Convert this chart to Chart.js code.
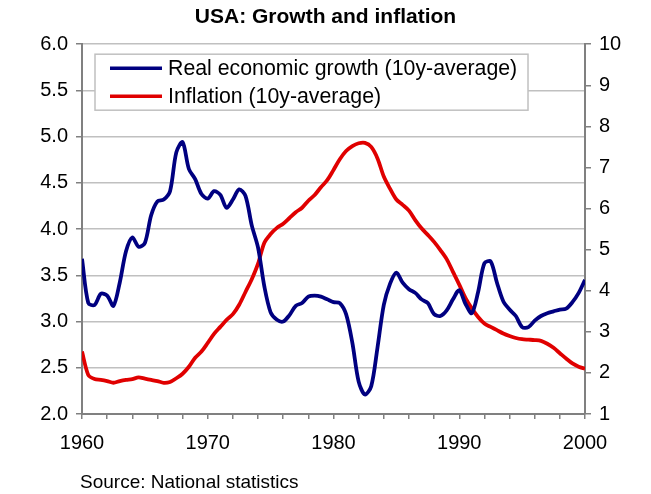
<!DOCTYPE html>
<html>
<head>
<meta charset="utf-8">
<script src="https://cdn.jsdelivr.net/npm/chart.js@4"></script>
<style>
  html, body { margin: 0; padding: 0; background: #fff; }
  canvas { display: block; }
</style>
</head>
<body>
<canvas id="chGrowth" width="651" height="494"></canvas>
<script>
// half-year steps, 1960 - 2000
var years = [1960,1960.5,1961,1961.5,1962,1962.5,1963,1963.5,1964,1964.5,
  1965,1965.5,1966,1966.5,1967,1967.5,1968,1968.5,1969,1969.5,
  1970,1970.5,1971,1971.5,1972,1972.5,1973,1973.5,1974,1974.5,
  1975,1975.5,1976,1976.5,1977,1977.5,1978,1978.5,1979,1979.5,
  1980,1980.5,1981,1981.5,1982,1982.5,1983,1983.5,1984,1984.5,
  1985,1985.5,1986,1986.5,1987,1987.5,1988,1988.5,1989,1989.5,
  1990,1990.5,1991,1991.5,1992,1992.5,1993,1993.5,1994,1994.5,
  1995,1995.5,1996,1996.5,1997,1997.5,1998,1998.5,1999,1999.5,2000];

// real growth, 10y average (left axis)
var growth = [3.68,3.20,3.18,3.30,3.28,3.17,3.42,3.76,3.91,3.81,
  3.85,4.15,4.30,4.32,4.41,4.83,4.94,4.65,4.54,4.38,
  4.33,4.41,4.37,4.23,4.32,4.43,4.36,4.04,3.80,3.38,
  3.10,3.02,3.00,3.07,3.17,3.20,3.27,3.28,3.27,3.24,
  3.21,3.20,3.08,2.77,2.35,2.21,2.30,2.72,3.18,3.41,
  3.53,3.42,3.35,3.31,3.24,3.20,3.08,3.06,3.12,3.24,
  3.34,3.19,3.09,3.32,3.63,3.65,3.42,3.22,3.13,3.06,
  2.94,2.94,3.01,3.06,3.09,3.11,3.13,3.14,3.21,3.31,3.45];

// inflation, 10y average (right axis)
var inflation = [2.52,1.95,1.85,1.83,1.80,1.76,1.80,1.83,1.85,1.89,
  1.86,1.83,1.80,1.76,1.78,1.87,1.98,2.15,2.37,2.52,
  2.73,2.95,3.12,3.29,3.43,3.66,3.97,4.28,4.66,5.17,
  5.38,5.53,5.63,5.77,5.91,6.02,6.19,6.33,6.52,6.69,
  6.94,7.20,7.40,7.52,7.59,7.60,7.50,7.22,6.78,6.48,
  6.22,6.09,5.95,5.72,5.52,5.36,5.19,4.99,4.77,4.46,
  4.15,3.82,3.57,3.36,3.20,3.12,3.04,2.96,2.90,2.85,
  2.82,2.81,2.80,2.78,2.71,2.61,2.48,2.35,2.23,2.15,2.10];

var seriesNames = ['Real economic growth (10y-average)', 'Inflation (10y-average)'];
var colors = ['#000080', '#e00000'];

var fontName = '"Liberation Sans", Arial, sans-serif';
Chart.defaults.font.family = fontName;
Chart.defaults.color = '#000';

function pts(vals) {
  return years.map(function (y, i) { return {x: y, y: vals[i]}; });
}

// legend box inside the plot + source note
var extras = {
  id: 'extras',
  beforeDatasetsDraw: function (chart) {
    var ctx = chart.ctx, a = chart.chartArea;
    var bx = a.left + 13, by = a.top + 10, bw = 433, bh = 56;
    ctx.save();
    ctx.fillStyle = '#fff';
    ctx.fillRect(bx, by, bw, bh);
    ctx.strokeStyle = '#c0c0c0';
    ctx.lineWidth = 1.5;
    ctx.strokeRect(bx, by, bw, bh);
    ctx.font = '21.3px ' + fontName;
    ctx.textBaseline = 'middle';
    ctx.fillStyle = '#000';
    for (var i = 0; i < seriesNames.length; i++) {
      var ly = by + 14 + i * 28;
      ctx.strokeStyle = colors[i];
      ctx.lineWidth = 3.5;
      ctx.beginPath();
      ctx.moveTo(bx + 15, ly);
      ctx.lineTo(bx + 67, ly);
      ctx.stroke();
      ctx.fillText(seriesNames[i], bx + 73, ly + 1);
    }
    ctx.restore();
  },
  afterDraw: function (chart) {
    var ctx = chart.ctx;
    ctx.save();
    ctx.font = '19px ' + fontName;
    ctx.fillStyle = '#000';
    ctx.textBaseline = 'middle';
    ctx.fillText('Source: National statistics', 80, 483);
    ctx.restore();
  }
};

new Chart(document.getElementById('chGrowth'), {
  type: 'line',
  data: {
    datasets: [
      {label: seriesNames[0], data: pts(growth), yAxisID: 'y',
       borderColor: colors[0], borderWidth: 3.8, pointRadius: 0, tension: 0.3},
      {label: seriesNames[1], data: pts(inflation), yAxisID: 'y1',
       borderColor: colors[1], borderWidth: 3.8, pointRadius: 0, tension: 0.3}
    ]
  },
  options: {
    responsive: false,
    animation: false,
    layout: {padding: 0},
    plugins: {
      legend: {display: false},
      tooltip: {enabled: false},
      title: {
        display: true,
        text: 'USA: Growth and inflation',
        font: {size: 21, weight: 'bold'},
        color: '#000',
        padding: {top: 5, bottom: 14}
      }
    },
    scales: {
      x: {
        type: 'linear', min: 1960, max: 2000,
        afterFit: function (s) { s.height = 80; },
        ticks: {
          stepSize: 2, autoSkip: false, maxRotation: 0, padding: 12,
          font: {size: 20},
          callback: function (v) { return v % 10 === 0 ? String(v) : ''; }
        },
        grid: {drawOnChartArea: false, tickLength: 5, color: '#808080', lineWidth: 1.5},
        border: {color: '#808080', width: 2}
      },
      y: {
        position: 'left', min: 2, max: 6,
        afterFit: function (s) { s.width = 82; },
        ticks: {stepSize: 0.5, padding: 8, font: {size: 20},
          callback: function (v) { return v.toFixed(1); }},
        grid: {color: '#c0c0c0', lineWidth: 1.5, tickLength: 6, tickColor: '#808080'},
        border: {color: '#808080', width: 2}
      },
      y1: {
        position: 'right', min: 1, max: 10,
        afterFit: function (s) { s.width = 66; },
        ticks: {stepSize: 1, padding: 8, font: {size: 20}},
        grid: {drawOnChartArea: false, tickLength: 6, color: '#808080', lineWidth: 1.5},
        border: {color: '#808080', width: 2}
      }
    }
  },
  plugins: [extras]
});
</script>
</body>
</html>
